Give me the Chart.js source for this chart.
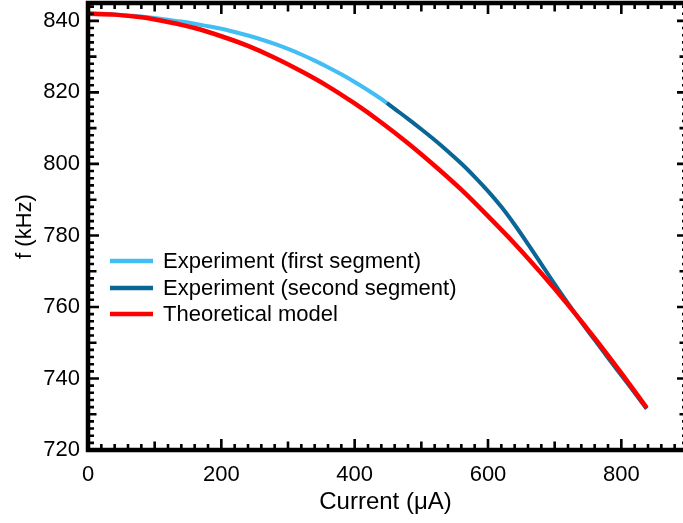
<!DOCTYPE html>
<html>
<head>
<meta charset="utf-8">
<script src="https://cdn.jsdelivr.net/npm/chart.js@4.4.1/dist/chart.umd.min.js"></script>
<style>
html, body { margin: 0; padding: 0; background: #fff; }
#wrap { width: 683px; height: 523px; }
</style>
</head>
<body>
<div id="wrap"><canvas id="freqChart"></canvas></div>
<script>
// current (uA) vs frequency (kHz)
const firstX = [0, 20, 40, 60, 80, 100, 120, 140, 160, 180, 200, 220, 240, 260, 280, 300, 320, 340, 360, 380, 400, 420, 440, 448];
const firstY = [842.1, 842.0, 841.8, 841.5, 841.2, 840.8, 840.3, 839.8, 839.2, 838.5, 837.8, 836.9, 835.9, 834.8, 833.55, 832.15, 830.6, 828.9, 827.05, 825.05, 822.9, 820.6, 818.15, 817.1];

const secondX = [448, 460, 480, 500, 520, 540, 560, 580, 600, 620, 640, 660, 680, 700, 720, 740, 760, 780, 800, 820, 838];
const secondY = [817.1, 815.4, 812.6, 809.7, 806.7, 803.5, 800.1, 796.4, 792.4, 788.0, 783.0, 777.6, 772.0, 766.4, 761.0, 755.8, 750.8, 745.8, 740.9, 736.0, 731.5];

const theoryX = [0, 40, 80, 120, 160, 200, 240, 280, 320, 360, 400, 440, 480, 520, 560, 600, 640, 680, 720, 760, 800, 838];
const theoryY = [842.0, 841.75, 841.0, 839.7, 838.0, 835.7, 833.0, 829.7, 825.9, 821.7, 816.9, 811.6, 805.8, 799.5, 792.8, 785.4, 777.7, 769.4, 760.6, 751.3, 741.5, 731.8];

const seriesNames = ['Experiment (first segment)', 'Experiment (second segment)', 'Theoretical model'];

const xMin = 0, xMax = 892.5, xFrame = 900;
const yMin = 720, yMax = 845;

function toPoints(xs, ys) {
    return xs.map((x, i) => ({x: x, y: ys[i]}));
}

const FONT = "'Liberation Sans', Arial, Helvetica, sans-serif";

// box frame with inward ticks on all four sides
const frameAxes = {
    id: 'frameAxes',
    afterDatasetsDraw(chart) {
        const ctx = chart.ctx;
        const sx = chart.scales.x, sy = chart.scales.y;
        const left = sx.getPixelForValue(xMin), right = sx.getPixelForValue(xFrame);
        const bottom = sy.getPixelForValue(yMin), top = sy.getPixelForValue(yMax);
        ctx.save();
        ctx.strokeStyle = '#000';
        ctx.lineCap = 'butt';
        ctx.lineWidth = 2.6;
        ctx.beginPath();
        for (let v = xMin; v <= xFrame; v += 20) {
            const len = v % 200 === 0 ? 11 : (v % 100 === 0 ? 8.5 : 6);
            const px = sx.getPixelForValue(v);
            ctx.moveTo(px, bottom); ctx.lineTo(px, bottom - len);
            ctx.moveTo(px, top); ctx.lineTo(px, top + len);
        }
        for (let v = yMin; v <= yMax; v += 2) {
            const len = v % 20 === 0 ? 11 : (v % 10 === 0 ? 8.5 : 6);
            const py = sy.getPixelForValue(v);
            ctx.moveTo(left, py); ctx.lineTo(left + len, py);
            ctx.moveTo(right, py); ctx.lineTo(right - len, py);
        }
        ctx.stroke();
        ctx.lineWidth = 4.5;
        ctx.strokeRect(left, top, right - left, bottom - top);
        ctx.restore();
    }
};

// legend sitting inside the plot
const insideLegend = {
    id: 'insideLegend',
    afterDraw(chart) {
        const ctx = chart.ctx;
        const rows = [261, 288, 314];
        ctx.save();
        ctx.font = '22px ' + FONT;
        ctx.textBaseline = 'middle';
        ctx.fillStyle = '#000';
        chart.data.datasets.forEach((ds, i) => {
            ctx.strokeStyle = ds.borderColor;
            ctx.lineWidth = 4.5;
            ctx.beginPath();
            ctx.moveTo(110, rows[i]);
            ctx.lineTo(153, rows[i]);
            ctx.stroke();
            ctx.fillText(ds.label, 163, rows[i] + 1);
        });
        ctx.restore();
    }
};

new Chart(document.getElementById('freqChart'), {
    type: 'line',
    data: {
        datasets: [{
            label: seriesNames[0],
            data: toPoints(firstX, firstY),
            borderColor: 'rgb(66, 190, 245)',
            borderWidth: 4,
            order: 1
        }, {
            label: seriesNames[1],
            data: toPoints(secondX, secondY),
            borderColor: 'rgb(10, 102, 150)',
            borderWidth: 4,
            order: 1
        }, {
            label: seriesNames[2],
            data: toPoints(theoryX, theoryY),
            borderColor: 'rgb(255, 0, 0)',
            borderWidth: 4.5,
            order: 0
        }]
    },
    options: {
        responsive: true,
        maintainAspectRatio: false,
        animation: false,
        layout: {
            padding: {top: 3, right: 0, left: 0, bottom: 0}
        },
        elements: {
            point: {radius: 0},
            line: {cubicInterpolationMode: 'monotone', fill: false}
        },
        scales: {
            x: {
                type: 'linear',
                min: xMin,
                max: xMax,
                grid: {display: false, drawTicks: false},
                border: {display: false},
                ticks: {
                    stepSize: 200,
                    includeBounds: false,
                    padding: 12,
                    color: '#000',
                    maxRotation: 0,
                    font: {family: FONT, size: 22}
                },
                title: {
                    display: true,
                    text: 'Current (\u03bcA)',
                    color: '#000',
                    font: {family: FONT, size: 24},
                    padding: {top: 0, bottom: 6}
                },
                afterFit(scale) {
                    scale.height = 73;
                    scale.paddingLeft = 0;
                    scale.paddingRight = 0;
                }
            },
            y: {
                type: 'linear',
                min: yMin,
                max: yMax,
                grid: {display: false, drawTicks: false},
                border: {display: false},
                ticks: {
                    stepSize: 20,
                    includeBounds: false,
                    padding: 8,
                    color: '#000',
                    font: {family: FONT, size: 22}
                },
                title: {
                    display: true,
                    text: 'f (kHz)',
                    color: '#000',
                    font: {family: FONT, size: 22},
                    padding: {top: 12, bottom: 0}
                },
                afterFit(scale) {
                    scale.width = 88;
                    scale.paddingTop = 0;
                    scale.paddingBottom = 0;
                }
            }
        },
        plugins: {
            legend: {display: false},
            tooltip: {enabled: false}
        }
    },
    plugins: [frameAxes, insideLegend]
});
</script>
</body>
</html>
